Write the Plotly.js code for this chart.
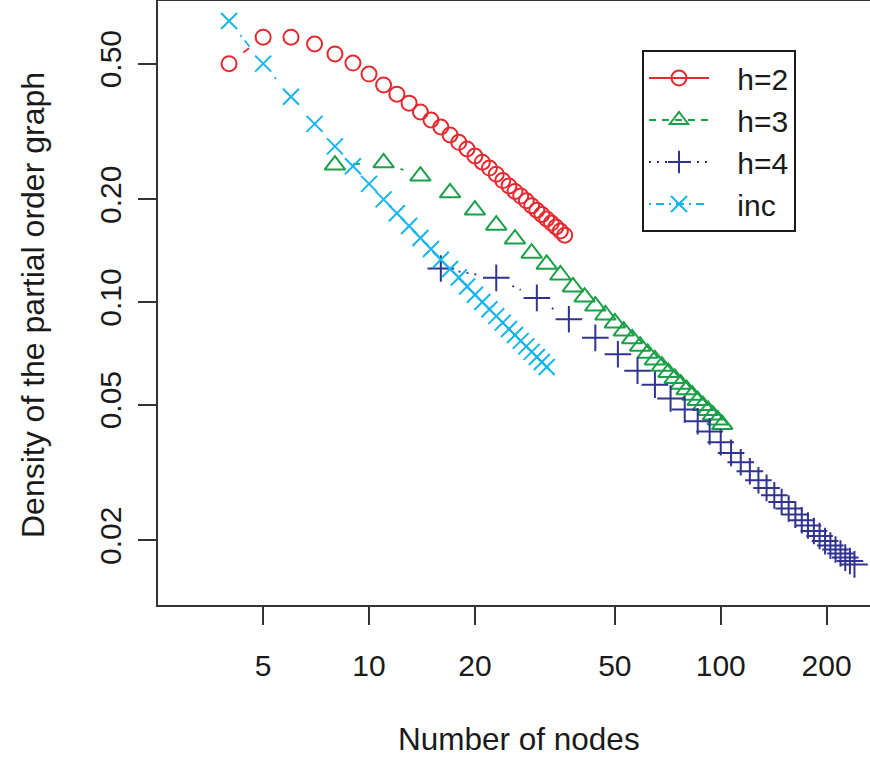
<!DOCTYPE html>
<html><head><meta charset="utf-8">
<script src="https://cdn.plot.ly/plotly-3.0.1.min.js"></script>
<style>html,body{margin:0;padding:0;background:#fff;overflow:hidden}#chart{width:870px;height:757px}</style>
</head><body><div id="chart"></div>
<script>
// ---- data ----
const nodesH2 = [4,5,6,7,8,9,10,11,12,13,14,15,16,17,18,19,20,21,22,23,24,25,26,27,28,29,30,31,32,33,34,35,36];
const densH2  = [0.50,0.598,0.598,0.571,0.534,0.502,0.466,0.433,0.407,0.383,0.361,0.342,0.326,0.309,0.294,0.281,0.268,0.257,0.247,0.237,0.227,0.219,0.211,0.2045,0.198,0.1916,0.1858,0.1804,0.1752,0.1704,0.166,0.1616,0.157];

const nodesH3 = [8,11,14,17,20,23,26,29,32,35,38,41,44,47,50,53,56,59,62,65,68,71,74,77,80,83,86,89,92,95,98,101];
const densH3  = [0.252,0.256,0.234,0.209,0.186,0.168,0.153,0.139,0.129,0.120,0.1107,0.1034,0.0973,0.0916,0.0868,0.0822,0.0780,0.0742,0.0707,0.0676,0.0648,0.0621,0.0597,0.0574,0.0553,0.0533,0.0514,0.0497,0.0481,0.0466,0.0451,0.0437];

const nodesH4 = [16,23,30,37,44,51,58,65,72,79,86,93,100,107,114,121,128,135,142,149,156,163,170,177,184,191,198,205,212,219,226,233,240];
const densH4  = [0.1254,0.1177,0.1028,0.0890,0.0785,0.0703,0.0629,0.0572,0.0521,0.0484,0.0447,0.0417,0.0388,0.0361,0.0339,0.0319,0.0300,0.0285,0.0271,0.0259,0.0248,0.0238,0.0229,0.0221,0.0213,0.0206,0.0199,0.0193,0.0188,0.0183,0.0178,0.0174,0.0170];

const nodesInc = [4,5,6,7,8,9,10,11,12,13,14,15,16,17,18,19,20,21,22,23,24,25,26,27,28,29,30,31,32];
const densInc  = [0.667,0.5,0.4,0.333,0.286,0.25,0.222,0.2,0.182,0.167,0.154,0.143,0.133,0.125,0.118,0.111,0.105,0.1,0.0952,0.0909,0.087,0.0833,0.08,0.0769,0.0741,0.0714,0.069,0.0667,0.0645];

const xTicks = [5,10,20,50,100,200];
const xTickText = ['5','10','20','50','100','200'];
const yTicks = [0.02,0.05,0.1,0.2,0.5];
const yTickText = ['0.02','0.05','0.10','0.20','0.50'];
const seriesNames = ['h=2','h=3','h=4','inc'];

// ---- layout geometry ----
const W = 870, H = 757;
const M = {l:158, r:0, t:1, b:152};
const xRange = [0.4, 2.4244];
const yRange = [-1.8886, -0.1173];
const PW = W - M.l - M.r, PH = H - M.t - M.b;
const kx = PW / (xRange[1] - xRange[0]);
const ky = PH / (yRange[1] - yRange[0]);
const GAP = 18; // px gap around points for "b"-type broken lines

function buildSeries(xs, ys, color) {
  const X = [], Y = [], C = [];
  const clear = 'rgba(0,0,0,0)';
  for (let i = 0; i < xs.length; i++) {
    X.push(xs[i]); Y.push(ys[i]); C.push(color);
    if (i < xs.length - 1) {
      const lx1 = Math.log10(xs[i]), ly1 = Math.log10(ys[i]);
      const lx2 = Math.log10(xs[i+1]), ly2 = Math.log10(ys[i+1]);
      const d = Math.hypot((lx2-lx1)*kx, (ly2-ly1)*ky);
      X.push(null); Y.push(null); C.push(clear);
      if (d > 2*GAP) {
        const f = GAP / d;
        X.push(Math.pow(10, lx1 + f*(lx2-lx1)), Math.pow(10, lx2 - f*(lx2-lx1)));
        Y.push(Math.pow(10, ly1 + f*(ly2-ly1)), Math.pow(10, ly2 - f*(ly2-ly1)));
        C.push(clear, clear);
        X.push(null); Y.push(null); C.push(clear);
      }
    }
  }
  return {X, Y, C};
}

const specs = [
  {x: nodesH2, y: densH2, color: '#E52A2F', symbol: 'circle-open', size: 15, dash: 'solid'},
  {x: nodesH3, y: densH3, color: '#1AA048', symbol: 'triangle-up-open', size: 18, dash: '7px,6px'},
  {x: nodesH4, y: densH4, color: '#30338F', symbol: 'cross-thin-open', size: 19, dash: '2px,6px'},
  {x: nodesInc, y: densInc, color: '#13B5EA', symbol: 'x-thin-open', size: 16, dash: '2px,5px,8px,5px'}
];

const LPAD = '\u2002\u00A0';
const traces = specs.map((s, i) => {
  const b = buildSeries(s.x, s.y, s.color);
  return {
    type: 'scatter', mode: 'lines+markers', name: LPAD + seriesNames[i],
    x: b.X, y: b.Y, connectgaps: false,
    line: {color: s.color, width: 1.8, dash: s.dash},
    marker: {symbol: s.symbol, size: s.size, color: b.C, line: {width: 2, color: s.color}},
    hoverinfo: 'skip'
  };
});

const FONT = '"Liberation Sans", Arial, Helvetica, sans-serif';
const layout = {
  width: W, height: H,
  margin: M,
  paper_bgcolor: '#fff', plot_bgcolor: '#fff',
  font: {family: FONT, size: 31, color: '#1a1a1a'},
  showlegend: true,
  legend: {
    x: (642 - M.l) / PW, y: (605 - 50) / PH,
    xanchor: 'left', yanchor: 'top',
    bordercolor: '#1a1a1a', borderwidth: 2, bgcolor: '#fff',
    font: {family: FONT, size: 30, color: '#1a1a1a'},
    itemwidth: 60
  },
  xaxis: {
    type: 'log', range: xRange, autorange: false,
    tickmode: 'array', tickvals: xTicks, ticktext: xTickText,
    ticks: 'outside', ticklen: 18, tickwidth: 2, tickcolor: '#333',
    showline: true, mirror: true, linecolor: '#333', linewidth: 2,
    showgrid: false, zeroline: false,
    tickfont: {family: FONT, size: 30, color: '#1a1a1a'},
    ticklabelstandoff: 15
  },
  yaxis: {
    type: 'log', range: yRange, autorange: false,
    tickmode: 'array', tickvals: yTicks, ticktext: yTickText,
    ticks: 'outside', ticklen: 18, tickwidth: 2, tickcolor: '#333',
    showline: true, mirror: false, linecolor: '#333', linewidth: 2,
    showgrid: false, zeroline: false, tickangle: -90,
    tickfont: {family: FONT, size: 30, color: '#1a1a1a'},
    ticklabelstandoff: 5
  },
  annotations: [
    {text: 'Number of nodes', xref: 'paper', yref: 'paper',
     x: (519 - M.l) / PW, y: (605 - 739) / PH,
     xanchor: 'center', yanchor: 'middle', showarrow: false, borderpad: 0,
     font: {family: FONT, size: 31.5, color: '#1a1a1a'}},
    {text: 'Density of the partial order graph', xref: 'paper', yref: 'paper',
     x: (33 - M.l) / PW, y: (605 - 305) / PH,
     xanchor: 'center', yanchor: 'middle', textangle: -90, showarrow: false, borderpad: 0,
     font: {family: FONT, size: 32, color: '#1a1a1a'}}
  ]
};

Plotly.newPlot('chart', traces, layout, {staticPlot: true, displayModeBar: false});
</script>
</body></html>
